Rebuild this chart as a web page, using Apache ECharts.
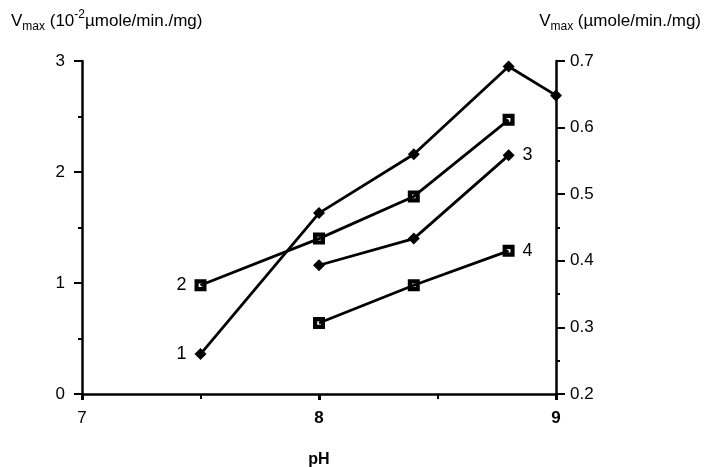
<!DOCTYPE html>
<html>
<head>
<meta charset="utf-8">
<script src="https://cdn.jsdelivr.net/npm/echarts@6/dist/echarts.min.js"></script>
<style>html,body{margin:0;padding:0;background:#fff;}#c{width:710px;height:467px;}</style>
</head>
<body>
<div id="c"></div>
<script>
// Data (x = pH, y = Vmax in 10^-2 µmole/min./mg on left axis)
var seriesNames = ['1', '2', '3', '4'];
var series1 = [[7.5, 0.36], [8.0, 1.63], [8.4, 2.16], [8.8, 2.95], [9.0, 2.69]];
var series2 = [[7.5, 0.98], [8.0, 1.40], [8.4, 1.78], [8.8, 2.47]];
var series3 = [[8.0, 1.16], [8.4, 1.40], [8.8, 2.15]];
var series4 = [[8.0, 0.64], [8.4, 0.98], [8.8, 1.29]];
var xTicks = [7, 8, 9];
var leftTicks = [0, 1, 2, 3];
var rightTicks = [0.2, 0.3, 0.4, 0.5, 0.6, 0.7];
var leftTitle = '{v|V}{s|max}{v| (10}{p|-2}{v|µmole/min./mg)}';
var rightTitle = '{v|V}{s|max}{v| (µmole/min./mg)}';
var xName = 'pH';

var FONT = 'Liberation Sans, Arial, sans-serif';
var richT = {
  v: {fontSize: 17, fontWeight: 'normal', fontFamily: FONT, color: '#000', verticalAlign: 'middle', lineHeight: 24},
  s: {fontSize: 12, fontWeight: 'normal', fontFamily: FONT, color: '#000', verticalAlign: 'bottom', lineHeight: 24, padding: [8, 0, 0, 0]},
  p: {fontSize: 12, fontWeight: 'normal', fontFamily: FONT, color: '#000', verticalAlign: 'top', lineHeight: 24, padding: [0, 0, 10, 0]}
};
var squareSym = 'path://M0,0H10V10H0Z M3.5,3.5V6.5H6.5V3.5Z';

function mk(data, name, labelIdx, pos, sym, size) {
  return {
    type: 'line', name: name, data: data.map(function (d, i) {
      var o = {value: d};
      if (i === labelIdx) {
        o.label = {show: true, formatter: name, position: pos, distance: 8,
          fontSize: 18, fontFamily: FONT, color: '#000'};
      }
      return o;
    }),
    symbol: sym, symbolSize: size, showSymbol: true,
    lineStyle: {color: '#000', width: 2.8},
    itemStyle: {color: '#000'},
    label: {show: false},
    animation: false
  };
}

var chart = echarts.init(document.getElementById('c'));
chart.setOption({
  animation: false,
  backgroundColor: '#fff',
  title: [
    {text: leftTitle, left: 6, top: 4, textStyle: {fontWeight: 'normal', rich: richT}},
    {text: rightTitle, right: 4, top: 4, textStyle: {fontWeight: 'normal', rich: richT}}
  ],
  grid: {left: 82, right: 154, top: 61, bottom: 73, outerBoundsMode: 'none', containLabel: false},
  xAxis: {
    type: 'value', min: xTicks[0], max: xTicks[xTicks.length - 1], interval: 1,
    name: xName, nameLocation: 'middle', nameGap: 58,
    nameTextStyle: {fontSize: 16, fontWeight: 'bold', fontFamily: FONT, color: '#000'},
    axisLine: {show: true, onZero: false, lineStyle: {color: '#000', width: 2.5}},
    axisTick: {show: true, length: 6, lineStyle: {color: '#000', width: 3}},
    minorTick: {show: true, splitNumber: 2, length: 5, lineStyle: {color: '#000', width: 2}},
    splitLine: {show: false},
    axisLabel: {
      margin: 16, fontSize: 17, fontFamily: FONT, color: '#000',
      formatter: function (v) { return v === 7 ? '{n|' + v + '}' : '{b|' + v + '}'; },
      rich: {n: {fontSize: 17, fontFamily: FONT}, b: {fontSize: 17, fontFamily: FONT, fontWeight: 'bold'}}
    }
  },
  yAxis: [
    {
      type: 'value', position: 'left', min: leftTicks[0], max: leftTicks[leftTicks.length - 1], interval: 1,
      axisLine: {show: true, lineStyle: {color: '#000', width: 2.5}},
      axisTick: {show: true, length: 8, lineStyle: {color: '#000', width: 2}},
      minorTick: {show: true, splitNumber: 2, length: 4, lineStyle: {color: '#000', width: 2}},
      splitLine: {show: false},
      axisLabel: {margin: 17, fontSize: 17, fontFamily: FONT, color: '#000'}
    },
    {
      type: 'value', position: 'right', min: rightTicks[0], max: rightTicks[rightTicks.length - 1], interval: 0.1,
      axisLine: {show: true, lineStyle: {color: '#000', width: 2.5}},
      axisTick: {show: true, length: 9, lineStyle: {color: '#000', width: 2}},
      minorTick: {show: true, splitNumber: 2, length: 4, lineStyle: {color: '#000', width: 2}},
      splitLine: {show: false},
      axisLabel: {margin: 14, fontSize: 17, fontFamily: FONT, color: '#000',
        formatter: function (v) { return v.toFixed(1); }}
    }
  ],
  series: [
    mk(series1, seriesNames[0], 0, 'left', 'diamond', 12),
    mk(series2, seriesNames[1], 0, 'left', squareSym, 12),
    mk(series3, seriesNames[2], series3.length - 1, 'right', 'diamond', 12),
    mk(series4, seriesNames[3], series4.length - 1, 'right', squareSym, 12)
  ]
});
</script>
</body>
</html>
